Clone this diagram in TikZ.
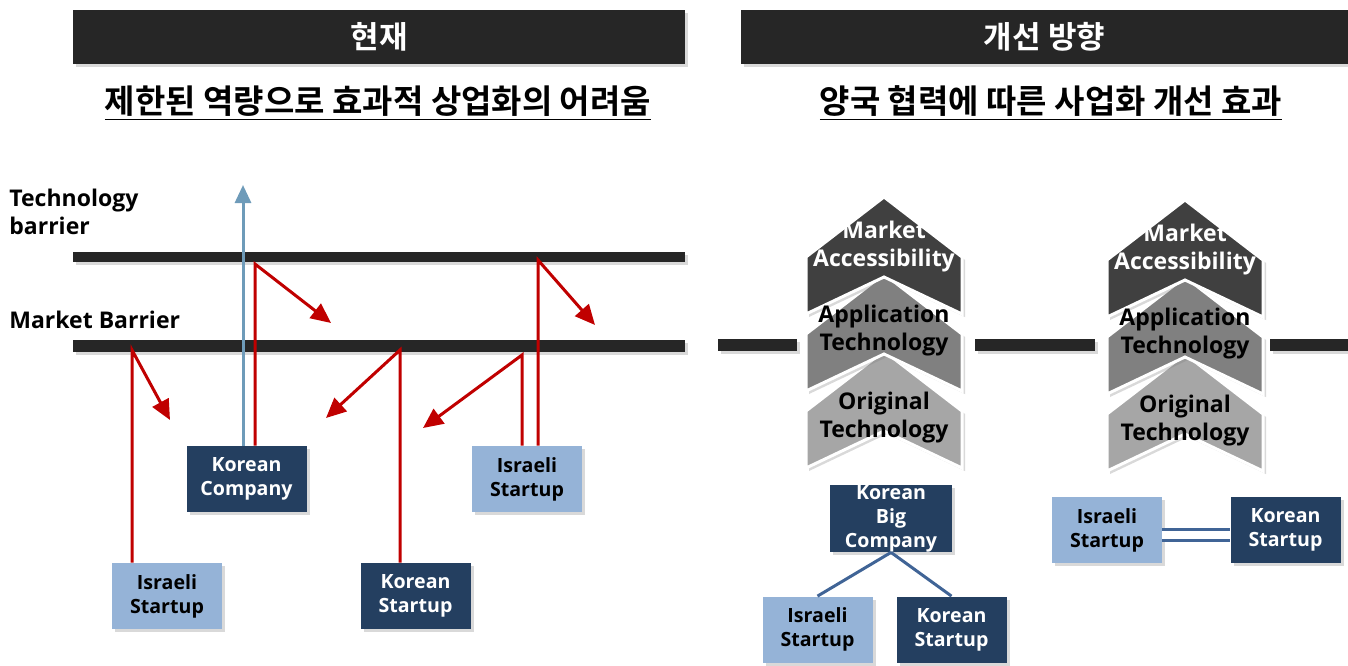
\documentclass[tikz,border=0pt]{standalone}
\usepackage{fontspec}
\setmainfont{Open Sans}
\newfontfamily\krfont{Noto Sans CJK KR}[BoldFont={* Bold}]
\usetikzlibrary{arrows.meta,shadows}
\definecolor{barblack}{RGB}{38,38,38}
\definecolor{navybox}{RGB}{36,63,96}
\definecolor{paleblue}{RGB}{149,179,215}
\definecolor{hitred}{RGB}{192,0,0}
\definecolor{upblue}{RGB}{110,155,185}
\definecolor{linkblue}{RGB}{64,100,150}
\definecolor{chevdark}{RGB}{64,64,64}
\definecolor{chevmid}{RGB}{128,128,128}
\definecolor{chevlight}{RGB}{166,166,166}
\begin{document}
\begin{tikzpicture}[x=0.5pt,y=-0.5pt,line join=round,font=\bfseries]
	\tikzset{
		shade/.style={drop shadow={shadow xshift=1.5pt,shadow yshift=-1.5pt,opacity=.3}},
		titlebar/.style={fill=barblack,shade,text=white,minimum height=27pt,inner sep=0pt,font=\krfont\bfseries\fontsize{15.5}{18}\selectfont},
		subtitle/.style={font=\krfont\bfseries\fontsize{16.5}{19}\selectfont},
		bar/.style={fill=barblack,shade},
		sidelabel/.style={anchor=west,align=left,inner sep=0pt,font=\bfseries\fontsize{11.5}{14}\selectfont},
		box/.style={shade,align=center,inner sep=0pt,minimum height=33pt,font=\bfseries\fontsize{9.8}{12}\selectfont},
		korbox/.style={box,fill=navybox,text=white},
		isrbox/.style={box,fill=paleblue,text=black,minimum width=55pt},
		bounce/.style={draw=hitred,line width=1.5pt,line join=miter,-{Triangle[length=10pt,width=9pt]}},
		breakthrough/.style={draw=upblue,line width=1.5pt,-{Triangle[length=9pt,width=8pt]}},
		chev/.style={draw=white,line width=1.5pt,line join=miter,shade},
		chevtext/.style={align=center,inner sep=0pt,font=\bfseries\fontsize{11.5}{14}\selectfont},
		link/.style={draw=linkblue,line width=1.5pt}
	}
	\useasboundingbox (0,0) rectangle (1348,665);
	\node[titlebar,minimum width=306pt] (nowBar) at (379,37) {현재};
	\node[titlebar,minimum width=303.5pt] (nextBar) at (1044.5,37) {개선 방향};
	\node[subtitle] (nowSub) at (378,103) {\underline{제한된 역량으로 효과적 상업화의 어려움}};
	\node[subtitle] (nextSub) at (1051,103) {\underline{양국 협력에 따른 사업화 개선 효과}};
	\node[sidelabel] (techLbl) at (9,212) {Technology\\barrier};
	\node[sidelabel] (mktLbl) at (9,320) {Market Barrier};
	\fill[bar] (73,252) rectangle (685,262);
	\fill[bar] (73,340) rectangle (685,352);
	\foreach \xa/\xb in {718/797,975/1095,1270/1348}{
		\fill[bar] (\xa,339) rectangle (\xb,351);
	}
	\node[korbox,minimum width=60pt] (korCo) at (246.5,479) {Korean\\Company};
	\node[isrbox] (isrB) at (527,479) {Israeli\\Startup};
	\node[isrbox] (isrA) at (167,596) {Israeli\\Startup};
	\node[korbox,minimum width=55pt] (korSt) at (415.5,596) {Korean\\Startup};
	\foreach \b/\h/\xa/\yh/\xe/\ye in {isrA/hitA/132/350/170/420,korCo/hitB/255/264/331/323,korSt/hitC/400/350/326/418,isrB/hitD/522/355/423/428,isrB/hitE/538/260/595/325}{
		\path (\xa,\yh) coordinate (\h) (\xe,\ye) coordinate (\h-end);
		\draw[bounce] (\b.north -| \h) -- (\h) -- (\h-end);
	}
	\coordinate (techTop) at (243,185);
	\draw[breakthrough] (korCo.north -| techTop) -- (techTop);
	\foreach \cx/\a/\n in {884/197/L,1185/200/R}{
		\foreach \k/\c in {2/chevlight,1/chevmid,0/chevdark}{
			\filldraw[chev,fill=\c] ({\cx-78},{\a+\k*77+60}) -- (\cx,{\a+\k*77}) -- ({\cx+78},{\a+\k*77+60}) -- ({\cx+78},{\a+\k*77+117}) -- (\cx,{\a+\k*77+80}) -- ({\cx-78},{\a+\k*77+117}) -- cycle;
		}
		\node[chevtext,text=white] (mkt\n) at (\cx,{\a+50}) {Market\\Accessibility};
		\node[chevtext] (app\n) at (\cx,{\a+134}) {Application\\Technology};
		\node[chevtext] (org\n) at (\cx,{\a+221}) {Original\\Technology};
	}
	\node[korbox,minimum width=61pt,minimum height=33.5pt] (bigCo) at (891,518.5) {Korean\\Big\\Company};
	\node[isrbox] (isrC) at (817.5,629.5) {Israeli\\Startup};
	\node[korbox,minimum width=55pt] (korC) at (951.5,629.5) {Korean\\Startup};
	\draw[link] (bigCo.south) -- (isrC.north);
	\draw[link] (bigCo.south) -- (korC.north);
	\node[isrbox] (isrP) at (1107,530) {Israeli\\Startup};
	\node[korbox,minimum width=55pt] (korP) at (1285.5,530) {Korean\\Startup};
	\draw[link,line width=1.3pt,double=white,double distance=4pt] ([yshift=-2.5pt]isrP.east) -- ([yshift=-2.5pt]korP.west);
\end{tikzpicture}
\end{document}
